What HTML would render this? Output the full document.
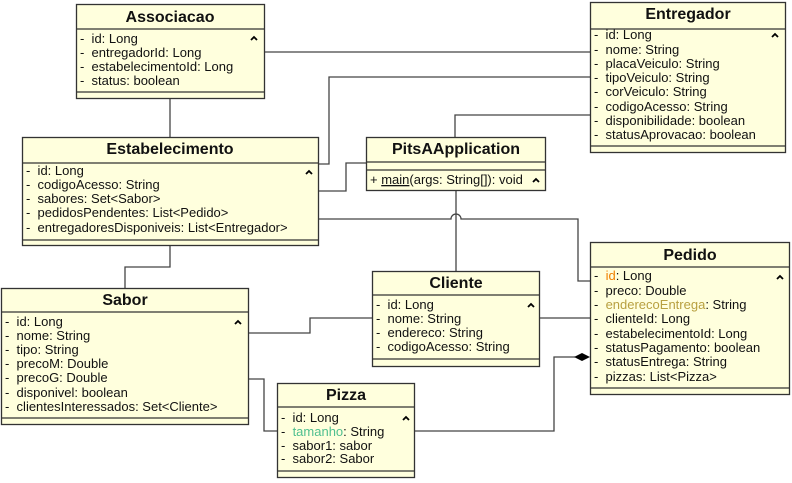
<!DOCTYPE html>
<html><head><meta charset="utf-8"><style>
html,body{margin:0;padding:0;background:#fff;}
svg{display:block;}
text{font-family:"Liberation Sans",Arial,sans-serif;font-size:13px;fill:#111;}
.t{font-weight:bold;font-size:16px;text-anchor:middle;}
.b{fill:#FFFFDD;stroke:#333;stroke-width:1.3;}
.s{fill:none;stroke:#333;stroke-width:1.2;}
.c{fill:none;stroke:#444;stroke-width:1.3;}
.car{fill:none;stroke:#000;stroke-width:1.8;}
</style></head><body>
<svg width="792" height="483" viewBox="0 0 792 483" xmlns="http://www.w3.org/2000/svg">
<!-- connectors -->
<path class="c" d="M264,52 H590"/>
<path class="c" d="M170,98 V137"/>
<path class="c" d="M318,164 H329 V77 H590"/>
<path class="c" d="M318,191 H346 V163 H366"/>
<path class="c" d="M455,137 V115 H590"/>
<path class="c" d="M318,219 H451 A5,5 0 0 1 461,219 H578 V281 H590"/>
<path class="c" d="M456,190 V271"/>
<path class="c" d="M170,245 V267 H125 V288"/>
<path class="c" d="M248,333 H310 V318 H372"/>
<path class="c" d="M539,318 H590"/>
<path class="c" d="M248,379 H264 V431 H277"/>
<path class="c" d="M414,431 H554 V357 H575"/>
<path d="M574,357 L582,353 L590,357 L582,361 Z" fill="#000"/>

<!-- Associacao -->
<rect class="b" x="76.5" y="4.5" width="188" height="94"/>
<path class="s" d="M76.5,29 H264.5 M76.5,92 H264.5"/>
<text class="t" x="170" y="22">Associacao</text>
<polyline class="car" points="251,40 254,37 257,40"/>
<text x="80" y="43">-&#160; id: Long</text>
<text x="80" y="57">-&#160; entregadorId: Long</text>
<text x="80" y="71">-&#160; estabelecimentoId: Long</text>
<text x="80" y="85">-&#160; status: boolean</text>

<!-- Entregador -->
<rect class="b" x="590.5" y="2.5" width="195" height="150"/>
<path class="s" d="M590.5,29 H785.5 M590.5,146 H785.5"/>
<text class="t" x="688" y="19">Entregador</text>
<polyline class="car" points="772,37 775,34 778,37"/>
<text x="594" y="39">-&#160; id: Long</text>
<text x="594" y="54">-&#160; nome: String</text>
<text x="594" y="68">-&#160; placaVeiculo: String</text>
<text x="594" y="82">-&#160; tipoVeiculo: String</text>
<text x="594" y="96">-&#160; corVeiculo: String</text>
<text x="594" y="111">-&#160; codigoAcesso: String</text>
<text x="594" y="125">-&#160; disponibilidade: boolean</text>
<text x="594" y="139">-&#160; statusAprovacao: boolean</text>

<!-- Estabelecimento -->
<rect class="b" x="22.5" y="137.5" width="296" height="108"/>
<path class="s" d="M22.5,163 H318.5 M22.5,240 H318.5"/>
<text class="t" x="170" y="154">Estabelecimento</text>
<polyline class="car" points="306,174 309,171 312,174"/>
<text x="26" y="175">-&#160; id: Long</text>
<text x="26" y="189">-&#160; codigoAcesso: String</text>
<text x="26" y="203">-&#160; sabores: Set&lt;Sabor&gt;</text>
<text x="26" y="217">-&#160; pedidosPendentes: List&lt;Pedido&gt;</text>
<text x="26" y="232">-&#160; entregadoresDisponiveis: List&lt;Entregador&gt;</text>

<!-- PitsAApplication -->
<rect class="b" x="366.5" y="137.5" width="179" height="53"/>
<path class="s" d="M366.5,162 H545.5 M366.5,170 H545.5"/>
<text class="t" x="456" y="154">PitsAApplication</text>
<text x="370" y="184">+ <tspan text-decoration="underline">main</tspan>(args: String[]): void</text>
<polyline class="car" points="533,182 536,179 539,182"/>

<!-- Cliente -->
<rect class="b" x="372.5" y="271.5" width="167" height="95"/>
<path class="s" d="M372.5,295 H539.5 M372.5,359 H539.5"/>
<text class="t" x="456" y="288">Cliente</text>
<polyline class="car" points="528,307 531,304 534,307"/>
<text x="376" y="309">-&#160; id: Long</text>
<text x="376" y="323">-&#160; nome: String</text>
<text x="376" y="337">-&#160; endereco: String</text>
<text x="376" y="351">-&#160; codigoAcesso: String</text>

<!-- Pedido -->
<rect class="b" x="590.5" y="242.5" width="199" height="152"/>
<path class="s" d="M590.5,267 H789.5 M590.5,388 H789.5"/>
<text class="t" x="690" y="260">Pedido</text>
<polyline class="car" points="777,279 780,276 783,279"/>
<text x="594" y="280">-&#160; <tspan fill="#F08000">id</tspan>: Long</text>
<text x="594" y="295">-&#160; preco: Double</text>
<text x="594" y="309">-&#160; <tspan fill="#B8A040">enderecoEntrega</tspan>: String</text>
<text x="594" y="323">-&#160; clienteId: Long</text>
<text x="594" y="338">-&#160; estabelecimentoId: Long</text>
<text x="594" y="352">-&#160; statusPagamento: boolean</text>
<text x="594" y="366">-&#160; statusEntrega: String</text>
<text x="594" y="381">-&#160; pizzas: List&lt;Pizza&gt;</text>

<!-- Sabor -->
<rect class="b" x="1.5" y="288.5" width="247" height="136"/>
<path class="s" d="M1.5,312 H248.5 M1.5,418 H248.5"/>
<text class="t" x="125" y="305">Sabor</text>
<polyline class="car" points="235,324 238,321 241,324"/>
<text x="5" y="326">-&#160; id: Long</text>
<text x="5" y="340">-&#160; nome: String</text>
<text x="5" y="354">-&#160; tipo: String</text>
<text x="5" y="368">-&#160; precoM: Double</text>
<text x="5" y="382">-&#160; precoG: Double</text>
<text x="5" y="397">-&#160; disponivel: boolean</text>
<text x="5" y="411">-&#160; clientesInteressados: Set&lt;Cliente&gt;</text>

<!-- Pizza -->
<rect class="b" x="277.5" y="383.5" width="137" height="94"/>
<path class="s" d="M277.5,407 H414.5 M277.5,471 H414.5"/>
<text class="t" x="346" y="400">Pizza</text>
<polyline class="car" points="403,420 406,417 409,420"/>
<text x="281" y="422">-&#160; id: Long</text>
<text x="281" y="436">-&#160; <tspan fill="#50C090">tamanho</tspan>: String</text>
<text x="281" y="450">-&#160; sabor1: sabor</text>
<text x="281" y="463">-&#160; sabor2: Sabor</text>
</svg>
</body></html>
